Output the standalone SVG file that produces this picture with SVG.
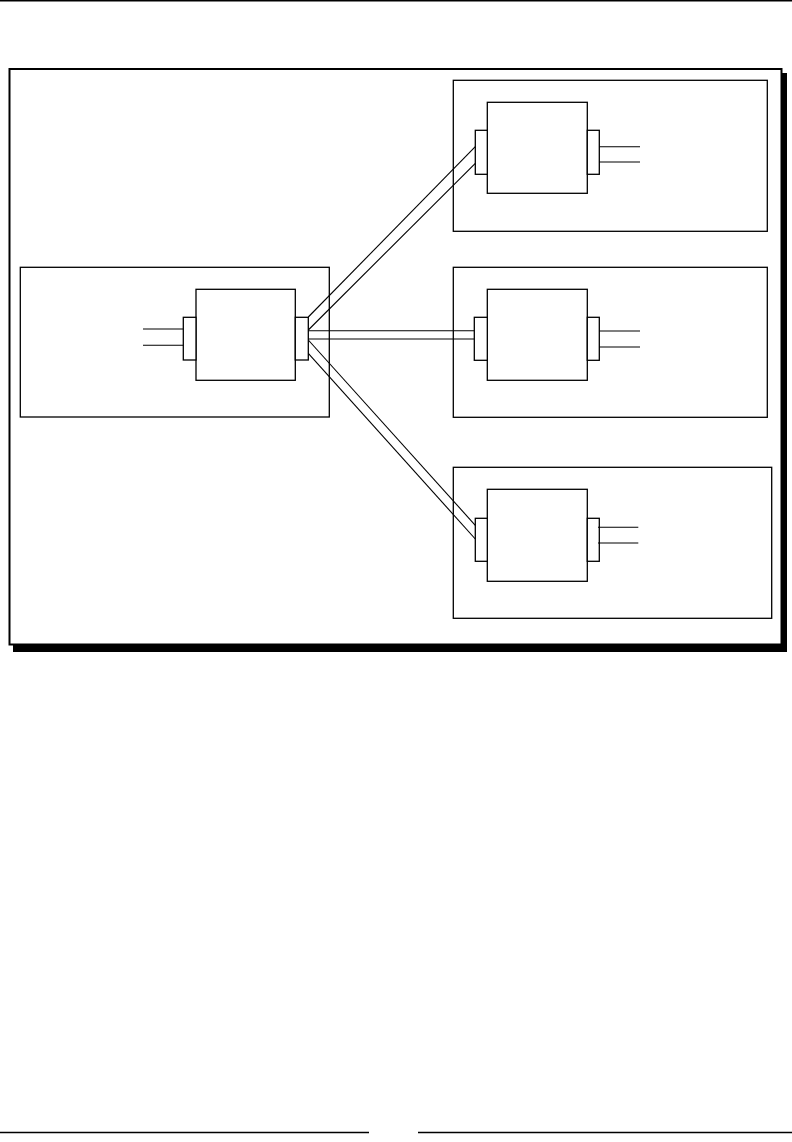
<svg xmlns="http://www.w3.org/2000/svg" width="792" height="1142" viewBox="0 0 792 1142">
<style>
.box{fill:#fff;stroke:#000;stroke-width:1.3}
.port{fill:#fff;stroke:#000;stroke-width:1.3}
.wire{fill:none;stroke:#000;stroke-width:1.1}
.rule{stroke:#000;stroke-width:1.5}
</style>
<rect width="792" height="1142" fill="#fff"/>
<line class="rule" x1="0" y1="0.75" x2="792" y2="0.75"/>
<line class="rule" x1="0" y1="1132.5" x2="369" y2="1132.5"/>
<line class="rule" x1="418" y1="1132.5" x2="792" y2="1132.5"/>
<g id="frame">
<rect x="13" y="73" width="774" height="579" fill="#000"/>
<rect x="9.5" y="69" width="772" height="575.5" fill="#fff" stroke="#000" stroke-width="2"/>
</g>
<g id="source">
<rect class="box" x="20.3" y="267.3" width="309" height="149.7"/>
<rect class="box" x="196" y="289.3" width="99.3" height="91"/>
<rect class="port" x="183.3" y="317.3" width="12.7" height="42.7"/>
<rect class="port" x="295.3" y="317.3" width="13" height="42.7"/>
<line class="wire" x1="143" y1="329" x2="183.3" y2="329"/>
<line class="wire" x1="143" y1="345.3" x2="183.3" y2="345.3"/>
</g>
<g id="sink-top">
<rect class="box" x="453.3" y="80.3" width="314" height="151"/>
<rect class="box" x="487.3" y="102.3" width="100" height="91"/>
<rect class="port" x="475.3" y="130.3" width="12" height="44"/>
<rect class="port" x="587.3" y="130.3" width="12" height="44"/>
<line class="wire" x1="599.3" y1="146.7" x2="640" y2="146.7"/>
<line class="wire" x1="599.3" y1="162" x2="640" y2="162"/>
</g>
<g id="sink-middle">
<rect class="box" x="453.3" y="267.3" width="314" height="150"/>
<rect class="box" x="487.3" y="289.3" width="100" height="91"/>
<rect class="port" x="474.3" y="317.3" width="13" height="43"/>
<rect class="port" x="587.3" y="317.3" width="12" height="43"/>
<line class="wire" x1="599.3" y1="331" x2="640" y2="331"/>
<line class="wire" x1="599.3" y1="347" x2="640" y2="347"/>
</g>
<g id="sink-bottom">
<rect class="box" x="453.3" y="467.3" width="318.4" height="151"/>
<rect class="box" x="487.3" y="489.3" width="100" height="92"/>
<rect class="port" x="475.3" y="518.3" width="12" height="43"/>
<rect class="port" x="587.3" y="518.3" width="12" height="43"/>
<line class="wire" x1="598" y1="527.3" x2="638.3" y2="527.3"/>
<line class="wire" x1="598" y1="543" x2="638.3" y2="543"/>
</g>
<g id="connectors">
<line class="wire" x1="308.3" y1="317" x2="475.3" y2="146.7"/>
<line class="wire" x1="308.3" y1="330" x2="475.3" y2="163.3"/>
<line class="wire" x1="308.3" y1="330.7" x2="474.3" y2="330.7"/>
<line class="wire" x1="308.3" y1="339" x2="474.3" y2="339"/>
<line class="wire" x1="308.3" y1="340" x2="475.3" y2="525.3"/>
<line class="wire" x1="308.3" y1="353.3" x2="475.3" y2="539"/>
</g>
</svg>
